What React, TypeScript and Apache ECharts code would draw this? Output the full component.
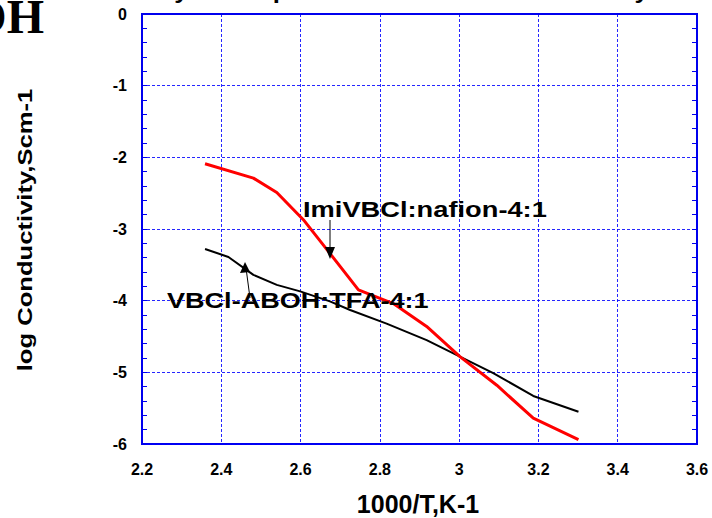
import React, { useEffect, useRef } from "react";
import * as echarts from "echarts";

const imiX = [2.359, 2.481, 2.540, 2.607, 2.674, 2.746, 2.834, 2.918, 3.002, 3.095, 3.187, 3.301];
const imiY = [-2.09, -2.29, -2.49, -2.87, -3.34, -3.85, -4.04, -4.36, -4.78, -5.18, -5.64, -5.94];
const vbX = [2.359, 2.418, 2.481, 2.540, 2.599, 2.674, 2.725, 2.817, 2.918, 3.002, 3.086, 3.187, 3.301];
const vbY = [-3.28, -3.39, -3.64, -3.78, -3.87, -4.01, -4.13, -4.32, -4.55, -4.78, -5.01, -5.33, -5.55];

const xMin = 2.2, xMax = 3.6, xStep = 0.2;
const yMin = -6, yMax = 0, yStep = 1;

const FONT = "Arial, 'Liberation Sans', sans-serif";

export default function App() {
  const ref = useRef<HTMLDivElement>(null);
  useEffect(() => {
    if (!ref.current) return;
    const chart = echarts.init(ref.current, null, { renderer: "svg" });
    const blue = "#0000ee";
    const gridBlue = "#0000ff";
    chart.setOption({
      animation: false,
      backgroundColor: "#fff",
      grid: { left: 142, right: 15, top: 14, bottom: 74, show: true, borderColor: blue, borderWidth: 2 },
      xAxis: [
        {
          type: "value", min: xMin, max: xMax, interval: xStep, position: "bottom",
          axisLine: { show: true, lineStyle: { color: blue, width: 2 } },
          splitLine: { show: true, lineStyle: { color: gridBlue, type: [3, 2], width: 1, opacity: 0.85 } },
          axisTick: { show: false },
          axisLabel: {
            color: "#000", fontWeight: "bold", fontSize: 16, fontFamily: FONT, margin: 17,
            formatter: (v: number) => String(Math.round(v * 10) / 10),
          },
        },
      ],
      yAxis: [
        {
          type: "value", min: yMin, max: yMax, interval: yStep, position: "left",
          axisLine: { show: true, lineStyle: { color: blue, width: 2 } },
          splitLine: { show: true, lineStyle: { color: gridBlue, type: [3, 2], width: 1, opacity: 0.85 } },
          axisTick: { show: true, inside: true, length: 5, lineStyle: { color: blue } },
          minorTick: { show: true, splitNumber: 5, length: 5, lineStyle: { color: blue, width: 1 } },
          axisLabel: { color: "#000", fontWeight: "bold", fontSize: 16, fontFamily: FONT, margin: 15 },
        },
        {
          type: "value", min: yMin, max: yMax, interval: yStep, position: "right",
          axisLine: { show: true, lineStyle: { color: blue, width: 2 } },
          splitLine: { show: false },
          axisTick: { show: true, inside: true, length: 5, lineStyle: { color: blue } },
          minorTick: { show: true, splitNumber: 5, length: 5, lineStyle: { color: blue, width: 1 } },
          axisLabel: { show: false },
        },
      ],
      series: [
        {
          type: "line", name: "ImiVBCl:nafion-4:1", showSymbol: false, symbol: "none",
          data: imiX.map((x, i) => [x, imiY[i]]),
          lineStyle: { color: "#ff0000", width: 3 }, z: 3,
        },
        {
          type: "line", name: "VBCl-ABOH:TFA-4:1", showSymbol: false, symbol: "none",
          data: vbX.map((x, i) => [x, vbY[i]]),
          lineStyle: { color: "#000", width: 2 }, z: 2,
        },
      ],
      graphic: [
        {
          type: "text", x: 117, y: 1, scaleX: 1.17,
          style: { text: "Study of temperature effect on conductivity", fill: "#000", font: `bold 22px ${FONT}`, align: "left", verticalAlign: "bottom" },
        },
        {
          type: "text", x: 44, y: 40,
          style: { text: "OH", fill: "#000", font: "bold 48px 'Liberation Serif', 'Times New Roman', serif", align: "right", verticalAlign: "bottom" },
        },
        {
          type: "text", x: 25, y: 230, rotation: Math.PI / 2, scaleX: 1.22,
          style: { text: "log Conductivity,Scm-1", fill: "#000", font: `bold 21px ${FONT}`, align: "center", verticalAlign: "middle" },
        },
        {
          type: "text", x: 418, y: 504,
          style: { text: "1000/T,K-1", fill: "#000", font: `bold 25px ${FONT}`, align: "center", verticalAlign: "middle" },
        },
        {
          type: "text", x: 303, y: 209, scaleX: 1.24, z: 10,
          style: { text: "ImiVBCl:nafion-4:1", fill: "#000", font: `bold 22px ${FONT}`, align: "left", verticalAlign: "middle" },
        },
        {
          type: "text", x: 167, y: 300, scaleX: 1.23, z: 10,
          style: { text: "VBCl-ABOH:TFA-4:1", fill: "#000", font: `bold 22px ${FONT}`, align: "left", verticalAlign: "middle" },
        },
        { type: "line", shape: { x1: 330, y1: 220, x2: 330, y2: 252 }, style: { stroke: "#000", lineWidth: 1 }, z: 10 },
        { type: "polygon", shape: { points: [[325, 247], [330, 259], [335, 247]] }, style: { fill: "#000" }, z: 10 },
        { type: "line", shape: { x1: 250, y1: 298, x2: 246, y2: 268 }, style: { stroke: "#000", lineWidth: 1 }, z: 10 },
        { type: "polygon", shape: { points: [[240, 273], [245, 262], [250, 272]] }, style: { fill: "#000" }, z: 10 },
      ],
    });
    return () => chart.dispose();
  }, []);
  return <div ref={ref} style={{ width: 712, height: 518, position: "absolute", left: 0, top: 0 }} />;
}
